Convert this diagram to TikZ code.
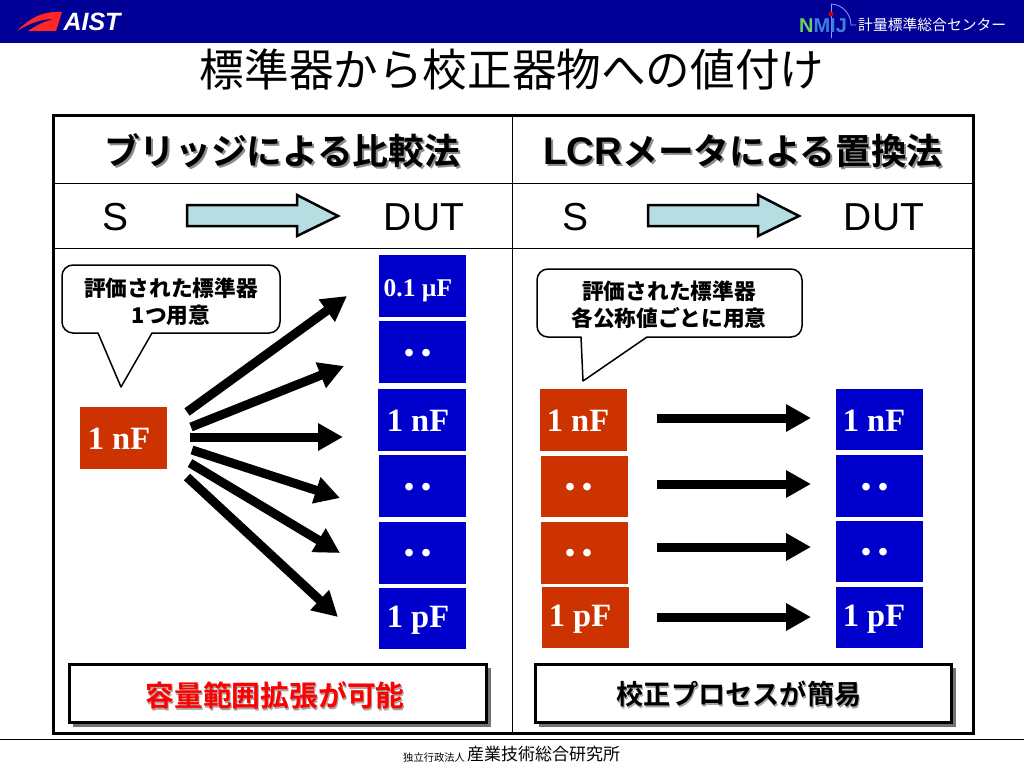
\documentclass[tikz,border=0pt]{standalone}
\usepackage{fontspec}
\setmainfont{Liberation Sans}
\newfontfamily\jp{Noto Sans CJK JP}
\newfontfamily\jpb{Noto Sans CJK JP Bold}
\newfontfamily\tms{Liberation Serif}[BoldFont={Liberation Serif Bold}]
\usetikzlibrary{arrows.meta}
\definecolor{navy}{RGB}{0,0,150}
\definecolor{capred}{RGB}{204,51,0}
\definecolor{capblue}{RGB}{0,0,204}
\definecolor{pale}{RGB}{182,221,226}
\newcommand{\twodots}{・\kern-13pt・}
\tikzset{
 x=1pt,y=-1pt,
 redbox/.style={fill=capred},
 bluebox/.style={fill=capblue},
 valtext/.style={text=white,inner sep=0pt,font=\tms\bfseries\fontsize{32.5}{34}\selectfont},
 smallval/.style={text=white,inner sep=0pt,font=\tms\bfseries\fontsize{25.5}{27}\selectfont},
 dots/.style={text=white,inner sep=0pt,font=\jpb\fontsize{30}{30}\selectfont},
 fatarrow/.style={line width=9pt,-{Triangle[length=25pt,width=26pt]}},
 palearrow/.style={draw=black,line width=2.5pt,fill=pale,line join=miter},
 callout/.style={draw=black,line width=1.5pt,fill=white,line join=round},
 heading/.style={inner sep=0pt,font=\jpb\fontsize{35.7}{38}\selectfont},
 sutlabel/.style={inner sep=0pt,font=\fontsize{39}{41}\selectfont},
 calltext/.style={inner sep=0pt,font=\jp\fontsize{21.7}{27}\selectfont\bfseries,align=center},
 notebox/.style={draw=black,line width=3pt,fill=white},
 notetext/.style={inner sep=0pt,font=\jpb\fontsize{27.2}{29}\selectfont},
 notetextbig/.style={inner sep=0pt,font=\jpb\fontsize{28.8}{30}\selectfont},
}
\newcommand{\bx}[9]{\fill[#1] (#2,#3) rectangle (#4,#5); \node[#6] (#7) at (#8,#9)}
\newcommand{\lcr}{{\fontspec{Liberation Sans Bold}\fontsize{38.5}{38}\selectfont LCR}}
\begin{document}
\begin{tikzpicture}
\useasboundingbox (0,0) rectangle (1024,768);
% header
\fill[navy] (0,0) rectangle (1024,43);
\fill[red!85!white] (17,31) .. controls (30,18) and (42,11) .. (62,12) -- (56,31) -- (28,31) .. controls (38,24) and (46,21) .. (54,19) .. controls (42,19) and (30,23) .. (17,31) -- cycle;
\node[text=white,font=\fontsize{25}{25}\selectfont\bfseries\itshape,inner sep=0pt] (aist) at (92,22) {AIST};
\draw[blue!40!white,line width=0.8pt] (831,4) .. controls (842,4) and (851,14) .. (851,25) -- (856,25);
\draw[blue!40!white,line width=0.8pt] (831,4) -- (831,38);
\fill[red!80!black] (831,14) circle (2.5);
\node[font=\fontsize{20}{20}\selectfont\bfseries,inner sep=0pt] (nmij) at (823,26) {\textcolor[RGB]{110,210,90}{N}\textcolor[RGB]{60,130,220}{MIJ}};
\node[text=white,font=\jp\fontsize{14.8}{16}\selectfont,inner sep=0pt,anchor=west] (nmijtext) at (858,25) {計量標準総合センター};
% title
\node[font=\jp\fontsize{44.6}{46}\selectfont,inner sep=0pt] (title) at (512,70) {標準器から校正器物への値付け};
% table
\draw[black,line width=1pt] (53,183) -- (973,183) (53,248) -- (973,248) (512.5,115) -- (512.5,733);
\draw[black,line width=3pt] (53,115) rectangle (973,733);
% headings with shadow
\node[heading,text=black!45] (h1s) at (284,153) {ブリッジによる比較法};
\node[heading] (h1) at (282,151) {ブリッジによる比較法};
\node[heading,text=black!45] (h2s) at (745,153) {\lcr メータによる置換法};
\node[heading] (h2) at (743,151) {\lcr メータによる置換法};
% S DUT
\node[sutlabel] (s1) at (116,217) {S};
\node[sutlabel] (d1) at (424,217) {DUT};
\node[sutlabel] (s2) at (575,217) {S};
\node[sutlabel] (d2) at (884,217) {DUT};
\draw[palearrow] (187,205) -- (297,205) -- (297,195) -- (338,216) -- (297,236) -- (297,226) -- (187,226) -- cycle;
\draw[palearrow] (648,205) -- (758,205) -- (758,195) -- (799,216) -- (758,236) -- (758,226) -- (648,226) -- cycle;
% callouts
\draw[callout] (73,265) -- (269,265) arc (-90:0:11) -- (280,322) arc (0:90:11) -- (152,333) -- (121,387) -- (98,333) -- (73,333) arc (90:180:11) -- (62,276) arc (180:270:11) -- cycle;
\node[calltext] (ct1) at (171,302) {評価された標準器\\1つ用意};
\draw[callout] (548,269) -- (791,269) arc (-90:0:11) -- (802,326) arc (0:90:11) -- (647,337) -- (583,381) -- (581,337) -- (548,337) arc (90:180:11) -- (537,280) arc (180:270:11) -- cycle;
\node[calltext] (ct2) at (669,305) {評価された標準器\\各公称値ごとに用意};
% boxes
\bx{redbox}{80}{407}{167}{469}{valtext}{r0}{119}{439}{1 nF};
\bx{bluebox}{379}{255}{466}{317}{smallval}{b1}{418}{291}{0.1 \textmu F};
\bx{bluebox}{379}{321}{466}{383}{dots}{b2}{418}{357}{\twodots};
\bx{bluebox}{378}{389}{466}{451}{valtext}{b3}{418}{421}{1 nF};
\bx{bluebox}{379}{455}{466}{517}{dots}{b4}{418}{491}{\twodots};
\bx{bluebox}{379}{522}{466}{584}{dots}{b5}{418}{557}{\twodots};
\bx{bluebox}{379}{588}{466}{649}{valtext}{b6}{418}{620}{1 pF};
\bx{redbox}{540}{389}{627}{451}{valtext}{r1}{578}{421}{1 nF};
\bx{redbox}{541}{456}{628}{517}{dots}{r2}{579}{491}{\twodots};
\bx{redbox}{541}{522}{628}{584}{dots}{r3}{579}{557}{\twodots};
\bx{redbox}{542}{587}{629}{648}{valtext}{r4}{580}{619}{1 pF};
\bx{bluebox}{836}{389}{923}{450}{valtext}{c1}{874}{421}{1 nF};
\bx{bluebox}{836}{455}{923}{517}{dots}{c2}{875}{491}{\twodots};
\bx{bluebox}{836}{521}{923}{582}{dots}{c3}{875}{556}{\twodots};
\bx{bluebox}{836}{587}{923}{648}{valtext}{c4}{874}{619}{1 pF};
% fan arrows
\coordinate (f1s) at (187,412); \coordinate (f1e) at (347,296);
\coordinate (f2s) at (191,427); \coordinate (f2e) at (344,366);
\coordinate (f3s) at (190,437); \coordinate (f3e) at (343,437);
\coordinate (f4s) at (192,450); \coordinate (f4e) at (340,498);
\coordinate (f5s) at (190,463); \coordinate (f5e) at (340,553);
\coordinate (f6s) at (187,477); \coordinate (f6e) at (338,617);
\foreach \i in {1,...,6}{\draw[fatarrow] (f\i s) -- (f\i e);}
% straight arrows
\coordinate (g1s) at (657,418); \coordinate (g1e) at (811,418);
\coordinate (g2s) at (657,484); \coordinate (g2e) at (811,484);
\coordinate (g3s) at (657,547); \coordinate (g3e) at (811,547);
\coordinate (g4s) at (657,617); \coordinate (g4e) at (811,617);
\foreach \i in {1,...,4}{\draw[fatarrow] (g\i s) -- (g\i e);}
% bottom notes
\fill[black!55] (73,668) rectangle (491,727);
\draw[notebox] (69,664) rectangle (486,722);
\node[notetextbig,text=black!35] (n1s) at (276,697) {容量範囲拡張が可能};
\node[notetextbig,text=red] (n1) at (275,695) {容量範囲拡張が可能};
\fill[black!55] (539,668) rectangle (956,727);
\draw[notebox] (535,664) rectangle (951,722);
\node[notetext,text=black!35] (n2s) at (740,696) {校正プロセスが簡易};
\node[notetext] (n2) at (739,694) {校正プロセスが簡易};
% footer
\draw[black,line width=0.8pt] (0,739) -- (1024,739);
\node[font=\jp\fontsize{10.3}{12}\selectfont,inner sep=0pt,anchor=base west] (f1) at (403,761) {独立行政法人};
\node[font=\jp\fontsize{17}{18}\selectfont,inner sep=0pt,anchor=base west] (f2) at (467,760) {産業技術総合研究所};
\end{tikzpicture}
\end{document}
